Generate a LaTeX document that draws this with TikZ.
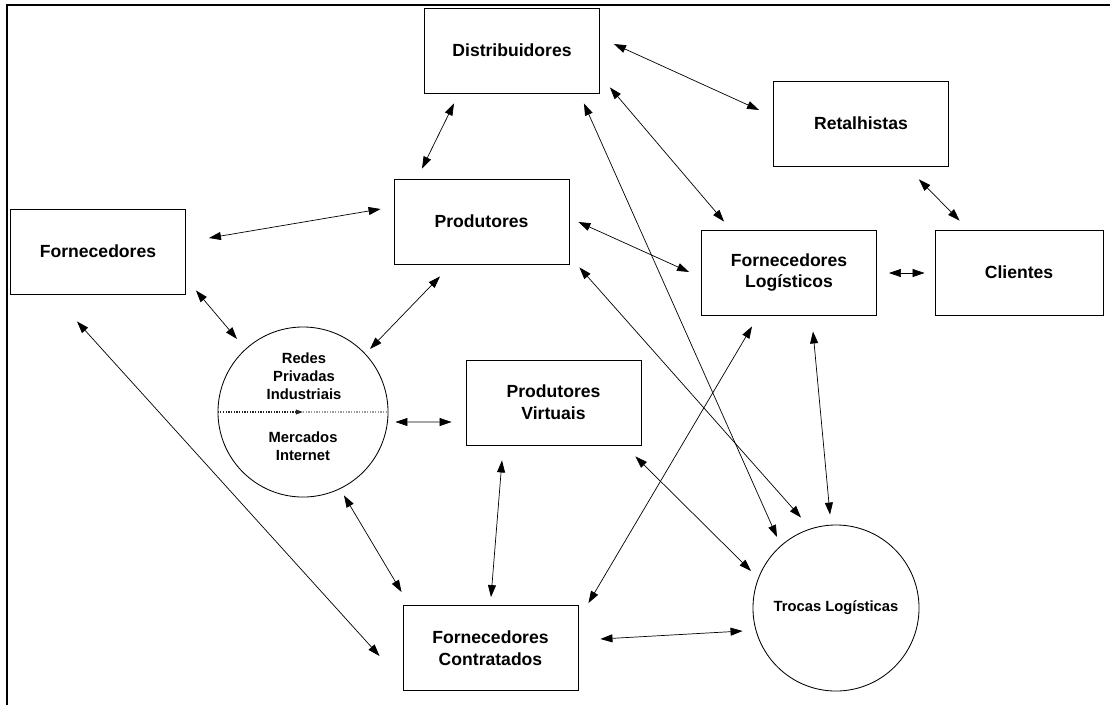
\documentclass[tikz,border=0pt]{standalone}
\usepackage{fontspec}
\setmainfont{Liberation Sans}
\usetikzlibrary{arrows.meta}

\begin{document}
\begin{tikzpicture}[x=0.025cm, y=-0.025cm,
  entbox/.style={rectangle, draw=black, line width=0.6pt,
    minimum width=4.375cm, minimum height=2.125cm,
    align=center, inner sep=2pt,
    font=\fontsize{12.5}{15.4}\selectfont\bfseries},
  netcircle/.style={circle, draw=black, line width=0.6pt, inner sep=0pt},
  smalltxt/.style={align=center, inner sep=0pt,
    font=\fontsize{10.5}{12.6}\selectfont\bfseries},
  arr/.style={{Triangle[length=3mm,width=2mm]}-{Triangle[length=3mm,width=2mm]},
    line width=0.5pt, draw=black},
  frame/.style={line width=1.4pt}
]
\useasboundingbox (0,0) rectangle (1110,705);

%% ==== Frame ====
\draw[frame] (1110,5) -- (7,5) -- (7,705);

%% ==== Boxes ====
\node[entbox] (Dist)  at (512,50.5)  {Distribuidores};
\node[entbox] (Ret)   at (861,123.5) {Retalhistas};
\node[entbox] (Prod)  at (481.5,221.5) {Produtores};
\node[entbox] (Forn)  at (98,251.5)  {Fornecedores};
\node[entbox] (FL)    at (789,272.5) {Fornecedores\\Logísticos};
\node[entbox, minimum width=4.2cm] (Cli) at (1019,272.5) {Clientes};
\node[entbox] (PV)    at (553.5,402.5) {Produtores\\Virtuais};
\node[entbox] (Contr) at (490.5,648) {Fornecedores\\Contratados};

%% ==== Circles ====
\node[netcircle, minimum size=4.25cm] (Redes) at (303,412) {};
\node[smalltxt] (RedesTop) at (304,376) {Redes\\Privadas\\Industriais};
\node[smalltxt] (RedesBot) at (303,446.5) {Mercados\\Internet};
\draw[densely dotted, line width=0.9pt, black!85, -{Triangle[length=1.8mm,width=1.2mm]}]
  (Redes.west) -- (Redes.center);
\draw[densely dotted, line width=0.9pt, gray!80] (Redes.center) -- (Redes.east);

\node[netcircle, minimum size=4.15cm, smalltxt] (Troc) at (836,608) {Trocas Logísticas};

%% ==== Arrows ====
\draw[arr] ([shift={(14,-6.5)}]Dist.east) -- ([shift={(-14,-13.5)}]Ret.west);
\draw[arr] ([shift={(-58,10)}]Dist.south) -- ([shift={(-59.5,-10)}]Prod.north);
\draw[arr] ([shift={(-16,10)}]Dist.south east) -- ([shift={(-59,-71)}]Troc.center);
\draw[arr] ([shift={(10,-6)}]Dist.south east) -- ([shift={(23,-8)}]FL.north west);
\draw[arr] ([shift={(-30,13)}]Ret.south east) -- ([shift={(25,-9)}]Cli.north west);
\draw[arr] ([shift={(23,-13.5)}]Forn.east) -- ([shift={(-13,-12.5)}]Prod.west);
\draw[arr] ([shift={(9,0.5)}]Prod.east) -- ([shift={(-12,-0.5)}]FL.west);
\draw[arr] ([shift={(12,0.5)}]FL.east) -- ([shift={(-10,0.5)}]Cli.west);
\draw[arr] ([shift={(10,-4)}]Forn.south east) -- ([shift={(-66,-73)}]Redes.center);
\draw[arr] ([shift={(-41.5,12)}]Prod.south) -- ([shift={(67,-63)}]Redes.center);
\draw[arr] ([shift={(-21,27)}]Forn.south) -- ([shift={(-23,8)}]Contr.west);
\draw[arr] ([shift={(7,10)}]Redes.east) -- ([shift={(-14,19.5)}]PV.west);
\draw[arr] ([shift={(41,-2)}]Redes.south) -- ([shift={(-1,-13)}]Contr.north west);
\draw[arr] ([shift={(-51.5,15)}]PV.south) -- ([shift={(0.5,-8)}]Contr.north);
\draw[arr] ([shift={(-6,11)}]PV.south east) -- ([shift={(-85,-37)}]Troc.center);
\draw[arr] ([shift={(-37,11)}]FL.south) -- ([shift={(10,-2)}]Contr.north east);
\draw[arr] ([shift={(24,16)}]FL.south) -- ([shift={(-6,-10)}]Troc.north);
\draw[arr] ([shift={(10,3)}]Prod.south east) -- ([shift={(-35,-7)}]Troc.north);
\draw[arr] ([shift={(22,-9)}]Contr.east) -- ([shift={(-10,23)}]Troc.west);

\end{tikzpicture}
\end{document}
